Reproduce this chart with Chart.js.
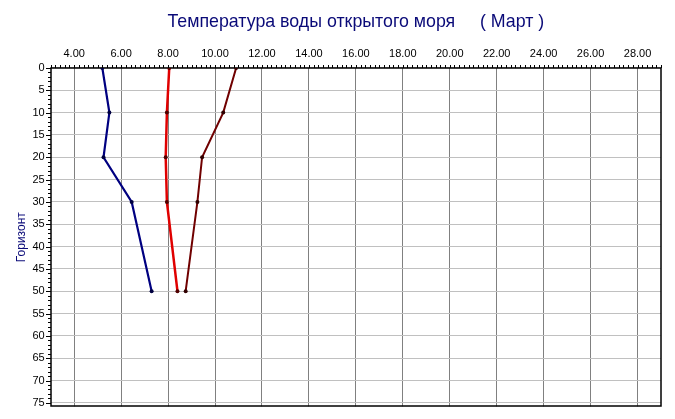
<!DOCTYPE html>
<html>
<head>
<meta charset="utf-8">
<script src="https://cdn.jsdelivr.net/npm/chart.js@4/dist/chart.umd.min.js"></script>
<style>
html,body{margin:0;padding:0;background:#fff;}
canvas{display:block;}
</style>
</head>
<body>
<canvas id="c" width="675" height="419"></canvas>
<script>
const titleText = "Температура воды открытого моря     ( Март )";
const yTitle = "Горизонт";
const depths = [0, 10, 20, 30, 50];
const seriesBlue = [5.2, 5.5, 5.25, 6.45, 7.3];
const seriesRed = [8.05, 7.95, 7.9, 7.95, 8.4];
const seriesMaroon = [10.9, 10.35, 9.45, 9.25, 8.75];
const xTicks = [4, 6, 8, 10, 12, 14, 16, 18, 20, 22, 24, 26, 28];
const yTicks = [0, 5, 10, 15, 20, 25, 30, 35, 40, 45, 50, 55, 60, 65, 70, 75];

const pts = arr => arr.map((v, i) => ({x: v, y: depths[i]}));

const frame = {
  id: 'frame',
  beforeDatasetsDraw(chart) {
    const {ctx, chartArea: a, scales: {x, y}} = chart;
    ctx.save();
    ctx.strokeStyle = '#000';
    ctx.lineWidth = 1;
    ctx.beginPath();
    for (let i = 0; i <= 130; i++) {
      const v = 3 + i * 0.2;
      const px = Math.round(x.getPixelForValue(v)) + 0.5;
      ctx.moveTo(px, Math.round(a.top) - 3);
      ctx.lineTo(px, Math.round(a.top));
    }
    for (let v = 0; v <= 75; v++) {
      const py = Math.round(y.getPixelForValue(v)) + 0.5;
      const len = v % 5 === 0 ? 5 : 3;
      ctx.moveTo(Math.round(a.left) - len, py);
      ctx.lineTo(Math.round(a.left), py);
    }
    ctx.stroke();
    ctx.lineWidth = 1.5;
    ctx.strokeRect(Math.round(a.left), Math.round(a.top), Math.round(a.right) - Math.round(a.left), Math.round(a.bottom) - Math.round(a.top));
    ctx.restore();
  }
};

new Chart(document.getElementById('c'), {
  type: 'scatter',
  data: {
    datasets: [
      {data: pts(seriesBlue), showLine: true, borderColor: '#000080', borderWidth: 2.2, pointRadius: 2, pointBackgroundColor: '#000040', pointBorderWidth: 0},
      {data: pts(seriesRed), showLine: true, borderColor: '#e00000', borderWidth: 2.5, pointRadius: 2, pointBackgroundColor: '#500000', pointBorderWidth: 0},
      {data: pts(seriesMaroon), showLine: true, borderColor: '#700000', borderWidth: 2, pointRadius: 2, pointBackgroundColor: '#300000', pointBorderWidth: 0}
    ]
  },
  options: {
    responsive: false,
    devicePixelRatio: 1,
    animation: false,
    layout: {padding: {left: 0, right: 14, top: 0, bottom: 12}},
    plugins: {
      legend: {display: false},
      tooltip: {enabled: false},
      title: {display: true, fullSize: false, text: titleText, color: '#0a0a78', font: {family: 'Liberation Sans', size: 17.8, weight: 'normal'}, padding: {top: 11, bottom: 0}}
    },
    scales: {
      x: {
        type: 'linear', position: 'top', min: 3, max: 29,
        afterBuildTicks: s => { s.ticks = xTicks.map(v => ({value: v})); },
        afterFit: s => { s.height = 35.6; },
        grid: {color: '#808080', drawTicks: false, lineWidth: 1},
        border: {display: false},
        ticks: {color: '#000', padding: 7, font: {family: 'Liberation Sans', size: 11}, callback: v => Number(v).toFixed(2), maxRotation: 0, autoSkip: false}
      },
      y: {
        type: 'linear', reverse: true, min: 0, max: 75.8,
        afterBuildTicks: s => { s.ticks = yTicks.map(v => ({value: v})); },
        afterFit: s => { s.width = 50.7; },
        grid: {color: '#c0c0c0', drawTicks: false, lineWidth: 1},
        border: {display: false},
        ticks: {color: '#000', padding: 6, font: {family: 'Liberation Sans', size: 11}, autoSkip: false},
        title: {display: true, text: yTitle, color: '#0a0a78', font: {family: 'Liberation Sans', size: 12}, padding: {top: 14, bottom: 0}}
      }
    }
  },
  plugins: [frame]
});
</script>
</body>
</html>
